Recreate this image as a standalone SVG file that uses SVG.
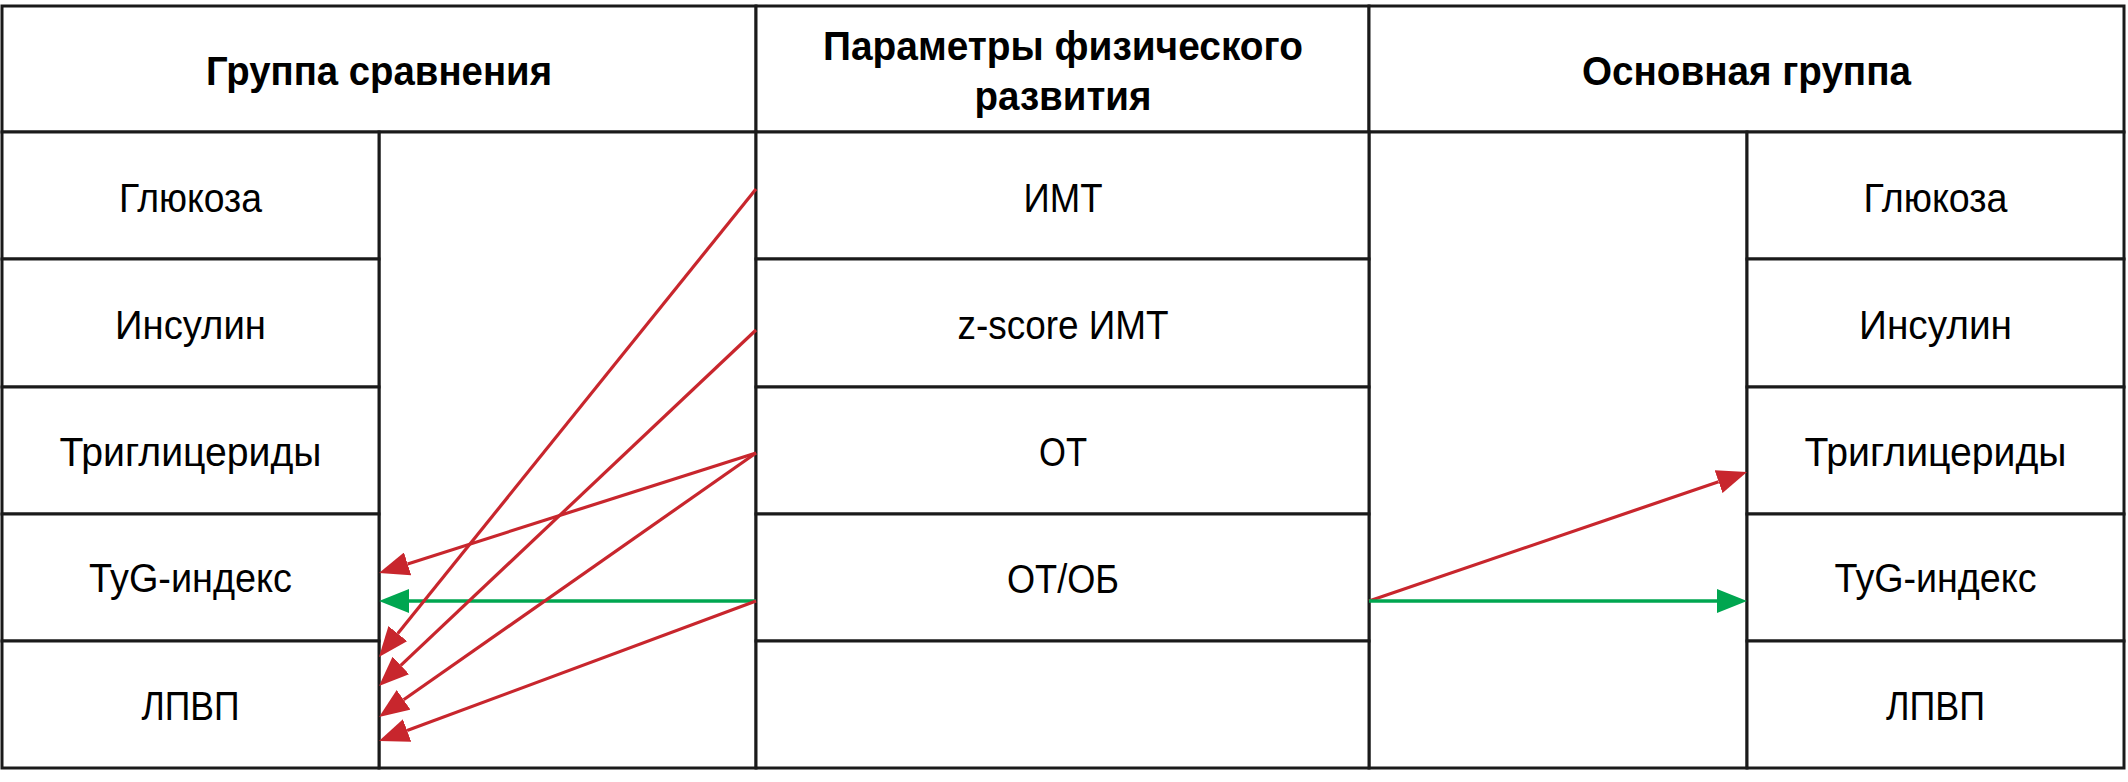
<svg xmlns="http://www.w3.org/2000/svg" width="2128" height="782" viewBox="0 0 2128 782">
<style>
.cell{fill:#fff;stroke:#1a1a1a;stroke-width:3}
.t{font-family:"Liberation Sans",Arial,sans-serif;font-size:40px;fill:#000;text-anchor:middle}
.h{font-weight:bold}
.red{stroke:#c8262d;stroke-width:3.2;fill:none}
.grn{stroke:#00a650;stroke-width:3.6;fill:none}
</style>
<defs>
<marker id="ar" markerUnits="userSpaceOnUse" markerWidth="30" markerHeight="24" viewBox="0 0 30 24" refX="0" refY="12" orient="auto"><path d="M0,0 L30,12 L0,24 Z" fill="#c8262d"/></marker>
<marker id="ag" markerUnits="userSpaceOnUse" markerWidth="30" markerHeight="24" viewBox="0 0 30 24" refX="0" refY="12" orient="auto"><path d="M0,0 L30,12 L0,24 Z" fill="#00a650"/></marker>
</defs>
<rect width="2128" height="782" fill="#fff"/>
<g id="hdr-compare"><rect class="cell" x="2" y="6" width="754" height="126"/><text class="t h" x="379" y="85" textLength="346" lengthAdjust="spacingAndGlyphs">Группа сравнения</text></g>
<g id="hdr-params"><rect class="cell" x="756" y="6" width="613" height="126"/><text class="t h" x="1063" y="60" textLength="480" lengthAdjust="spacingAndGlyphs">Параметры физического</text><text class="t h" x="1063" y="110" textLength="177" lengthAdjust="spacingAndGlyphs">развития</text></g>
<g id="hdr-main"><rect class="cell" x="1369" y="6" width="755" height="126"/><text class="t h" x="1746.5" y="85" textLength="329" lengthAdjust="spacingAndGlyphs">Основная группа</text></g>

<g id="left-blank"><rect class="cell" x="379" y="132" width="377" height="636"/></g>
<g id="right-blank"><rect class="cell" x="1369" y="132" width="378" height="636"/></g>

<g id="l-gluc"><rect class="cell" x="2" y="132" width="377" height="127"/><text class="t" x="190.5" y="212" textLength="143" lengthAdjust="spacingAndGlyphs">Глюкоза</text></g>
<g id="l-ins"><rect class="cell" x="2" y="259" width="377" height="128"/><text class="t" x="190.5" y="339" textLength="151" lengthAdjust="spacingAndGlyphs">Инсулин</text></g>
<g id="l-tg"><rect class="cell" x="2" y="387" width="377" height="127"/><text class="t" x="190.5" y="466" textLength="262" lengthAdjust="spacingAndGlyphs">Триглицериды</text></g>
<g id="l-tyg"><rect class="cell" x="2" y="514" width="377" height="127"/><text class="t" x="190.5" y="592" textLength="203" lengthAdjust="spacingAndGlyphs">TyG-индекс</text></g>
<g id="l-hdl"><rect class="cell" x="2" y="641" width="377" height="127"/><text class="t" x="190.5" y="720" textLength="98" lengthAdjust="spacingAndGlyphs">ЛПВП</text></g>

<g id="m-bmi"><rect class="cell" x="756" y="132" width="613" height="127"/><text class="t" x="1063" y="212" textLength="79" lengthAdjust="spacingAndGlyphs">ИМТ</text></g>
<g id="m-zbmi"><rect class="cell" x="756" y="259" width="613" height="128"/><text class="t" x="1063" y="339" textLength="211" lengthAdjust="spacingAndGlyphs">z-score ИМТ</text></g>
<g id="m-wc"><rect class="cell" x="756" y="387" width="613" height="127"/><text class="t" x="1063" y="466" font-size="38" textLength="48" lengthAdjust="spacingAndGlyphs">ОТ</text></g>
<g id="m-whr"><rect class="cell" x="756" y="514" width="613" height="127"/><text class="t" x="1063" y="593" font-size="38" textLength="112" lengthAdjust="spacingAndGlyphs">ОТ/ОБ</text></g>
<g id="m-empty"><rect class="cell" x="756" y="641" width="613" height="127"/></g>

<g id="r-gluc"><rect class="cell" x="1747" y="132" width="377" height="127"/><text class="t" x="1935.5" y="212" textLength="144" lengthAdjust="spacingAndGlyphs">Глюкоза</text></g>
<g id="r-ins"><rect class="cell" x="1747" y="259" width="377" height="128"/><text class="t" x="1935.5" y="339" textLength="153" lengthAdjust="spacingAndGlyphs">Инсулин</text></g>
<g id="r-tg"><rect class="cell" x="1747" y="387" width="377" height="127"/><text class="t" x="1935.5" y="466" textLength="262" lengthAdjust="spacingAndGlyphs">Триглицериды</text></g>
<g id="r-tyg"><rect class="cell" x="1747" y="514" width="377" height="127"/><text class="t" x="1935.5" y="592" textLength="202" lengthAdjust="spacingAndGlyphs">TyG-индекс</text></g>
<g id="r-hdl"><rect class="cell" x="1747" y="641" width="377" height="127"/><text class="t" x="1935.5" y="720" textLength="99" lengthAdjust="spacingAndGlyphs">ЛПВП</text></g>

<g id="connectors">
<line class="red" x1="756" y1="453" x2="407.6" y2="563.9" marker-end="url(#ar)"/>
<line class="grn" x1="756" y1="601" x2="409" y2="601" marker-end="url(#ag)"/>
<line class="red" x1="756" y1="189" x2="397.8" y2="633.6" marker-end="url(#ar)"/>
<line class="red" x1="756" y1="330" x2="400.8" y2="665.4" marker-end="url(#ar)"/>
<line class="red" x1="756" y1="453" x2="403.6" y2="699.8" marker-end="url(#ar)"/>
<line class="red" x1="756" y1="601" x2="407.1" y2="730.6" marker-end="url(#ar)"/>
<line class="red" x1="1369" y1="601" x2="1718.6" y2="481.7" marker-end="url(#ar)"/>
<line class="grn" x1="1369" y1="601" x2="1717" y2="601" marker-end="url(#ag)"/>
</g>
</svg>
